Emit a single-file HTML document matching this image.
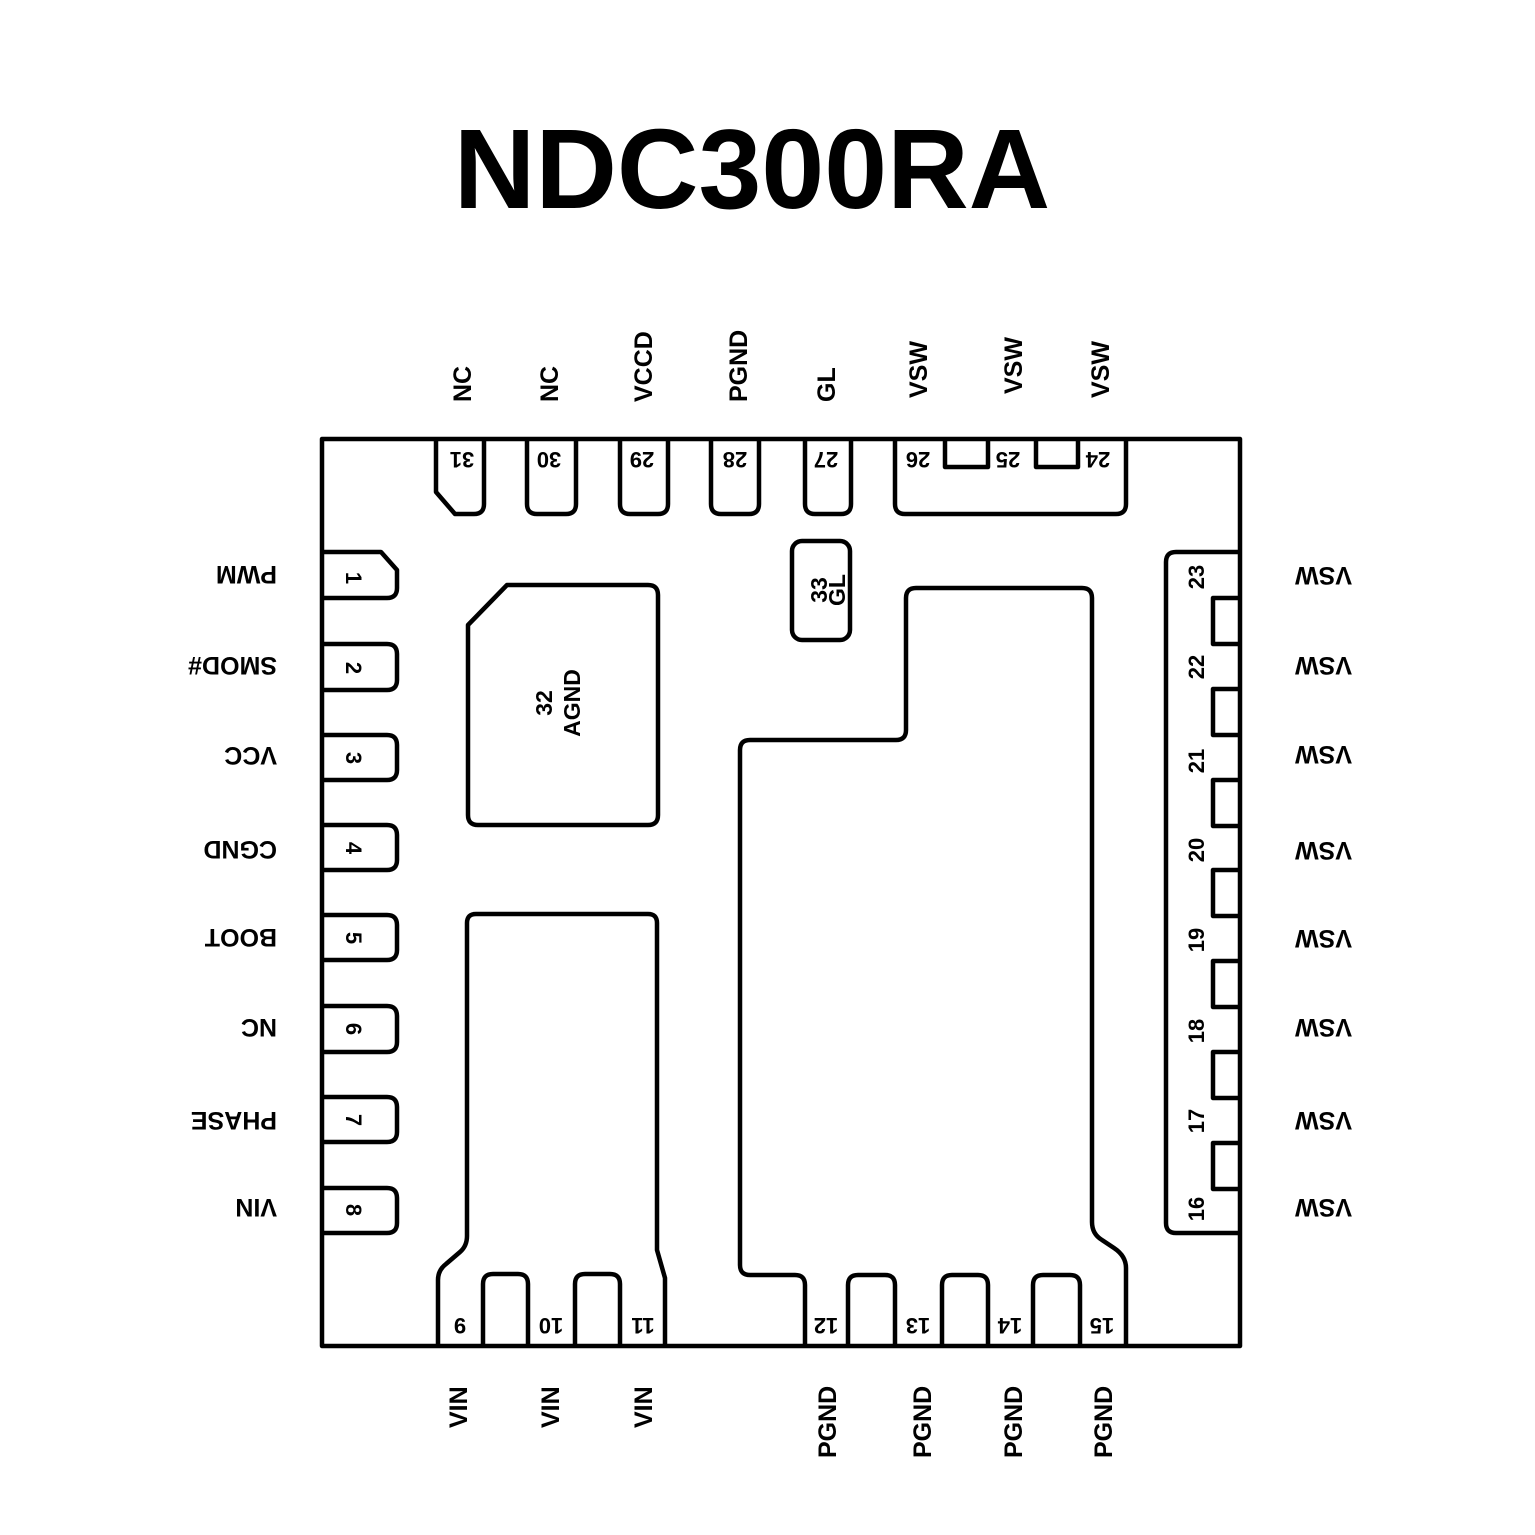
<!DOCTYPE html>
<html><head><meta charset="utf-8"><style>
html,body{margin:0;padding:0;background:#fff;}
svg{display:block;}
text{font-family:"Liberation Sans",Arial,sans-serif;font-weight:bold;fill:#000;}
</style></head><body>
<svg width="1535" height="1535" viewBox="0 0 1535 1535" xmlns="http://www.w3.org/2000/svg">
<text x="752" y="208" font-size="113" text-anchor="middle">NDC300RA</text>
<g fill="none" stroke="#000" stroke-width="4.5" stroke-linejoin="round">
<rect x="322" y="439" width="918" height="907"/>
<path d="M436 439 V492 L455 514 H474 Q484 514 484 504 V439"/>
<path d="M527 439 V504 Q527 514 537 514 H566 Q576 514 576 504 V439"/>
<path d="M620 439 V504 Q620 514 630 514 H658 Q668 514 668 504 V439"/>
<path d="M711 439 V504 Q711 514 721 514 H749 Q759 514 759 504 V439"/>
<path d="M805 439 V504 Q805 514 815 514 H841 Q851 514 851 504 V439"/>
<path d="M895 439 V504 Q895 514 905 514 H1116 Q1126 514 1126 504 V439"/>
<path d="M945 439 V467 H988 V439"/>
<path d="M1036 439 V467 H1078 V439"/>
<rect x="792" y="541" width="58" height="99" rx="10"/>
<path d="M468 625 L507 585 H648 Q658 585 658 595 V815 Q658 825 648 825 H478 Q468 825 468 815 Z"/>
<path d="M438 1346 V1280 Q438 1270 446 1264 L460 1252 Q467 1246 467 1236 V923 Q467 914 476 914 H648 Q657 914 657 923 V1250 L665 1278 V1346"/>
<path d="M483 1346 V1284 Q483 1274 493 1274 H518 Q528 1274 528 1284 V1346"/>
<path d="M575 1346 V1284 Q575 1274 585 1274 H610 Q620 1274 620 1284 V1346"/>
<path d="M805 1346 V1285 Q805 1275 795 1275 H750 Q740 1275 740 1265 V750 Q740 740 750 740 H896 Q906 740 906 730 V598 Q906 588 916 588 H1082 Q1092 588 1092 598 V1222 Q1092 1234 1102 1240 L1114 1248 Q1126 1256 1126 1268 V1346"/>
<path d="M848 1346 V1285 Q848 1275 858 1275 H885 Q895 1275 895 1285 V1346"/>
<path d="M942 1346 V1285 Q942 1275 952 1275 H978 Q988 1275 988 1285 V1346"/>
<path d="M1033 1346 V1285 Q1033 1275 1043 1275 H1070 Q1080 1275 1080 1285 V1346"/>
<path d="M322 552 H381 L397 570 V588 Q397 598 387 598 H322"/>
<path d="M322 644 H387 Q397 644 397 654 V680 Q397 690 387 690 H322"/>
<path d="M322 735 H387 Q397 735 397 745 V770 Q397 780 387 780 H322"/>
<path d="M322 825 H387 Q397 825 397 835 V860 Q397 870 387 870 H322"/>
<path d="M322 915 H387 Q397 915 397 925 V950 Q397 960 387 960 H322"/>
<path d="M322 1006 H387 Q397 1006 397 1016 V1042 Q397 1052 387 1052 H322"/>
<path d="M322 1097 H387 Q397 1097 397 1107 V1132 Q397 1142 387 1142 H322"/>
<path d="M322 1188 H387 Q397 1188 397 1198 V1223 Q397 1233 387 1233 H322"/>
<path d="M1240 552 H1176 Q1166 552 1166 562 V1223 Q1166 1233 1176 1233 H1240"/>
<path d="M1240 598 H1213 V644 H1240"/>
<path d="M1240 689 H1213 V735 H1240"/>
<path d="M1240 780 H1213 V826 H1240"/>
<path d="M1240 870 H1213 V916 H1240"/>
<path d="M1240 961 H1213 V1007 H1240"/>
<path d="M1240 1052 H1213 V1098 H1240"/>
<path d="M1240 1143 H1213 V1189 H1240"/>
</g>
<g font-size="25">
<text transform="translate(471,402) rotate(-90)">NC</text>
<text transform="translate(558,402) rotate(-90)">NC</text>
<text transform="translate(652,402) rotate(-90)">VCCD</text>
<text transform="translate(747,402) rotate(-90)">PGND</text>
<text transform="translate(835,402) rotate(-90)">GL</text>
<text transform="translate(927,398) rotate(-90)">VSW</text>
<text transform="translate(1022,394) rotate(-90)">VSW</text>
<text transform="translate(1109,398) rotate(-90)">VSW</text>
<text transform="translate(467,1428) rotate(-90)">VIN</text>
<text transform="translate(559,1428) rotate(-90)">VIN</text>
<text transform="translate(652,1428) rotate(-90)">VIN</text>
<text transform="translate(836,1458) rotate(-90)">PGND</text>
<text transform="translate(931,1458) rotate(-90)">PGND</text>
<text transform="translate(1022,1458) rotate(-90)">PGND</text>
<text transform="translate(1112,1458) rotate(-90)">PGND</text>
<g text-anchor="start">
<text transform="translate(277,566) rotate(180)">PWM</text>
<text transform="translate(277,657) rotate(180)">SMOD#</text>
<text transform="translate(277,747) rotate(180)">VCC</text>
<text transform="translate(277,841) rotate(180)">CGND</text>
<text transform="translate(277,929) rotate(180)">BOOT</text>
<text transform="translate(277,1019) rotate(180)">NC</text>
<text transform="translate(277,1112) rotate(180)">PHASE</text>
<text transform="translate(277,1199) rotate(180)">VIN</text>
</g>
<g text-anchor="end">
<text transform="translate(1295,567) rotate(180)">VSW</text>
<text transform="translate(1295,657) rotate(180)">VSW</text>
<text transform="translate(1295,746) rotate(180)">VSW</text>
<text transform="translate(1295,842) rotate(180)">VSW</text>
<text transform="translate(1295,930) rotate(180)">VSW</text>
<text transform="translate(1295,1019) rotate(180)">VSW</text>
<text transform="translate(1295,1112) rotate(180)">VSW</text>
<text transform="translate(1295,1199) rotate(180)">VSW</text>
</g>
</g>
<g font-size="22" text-anchor="middle">
<text transform="translate(462,452) rotate(180)">31</text>
<text transform="translate(549,452) rotate(180)">30</text>
<text transform="translate(642,452) rotate(180)">29</text>
<text transform="translate(735,452) rotate(180)">28</text>
<text transform="translate(826,452) rotate(180)">27</text>
<text transform="translate(918,452) rotate(180)">26</text>
<text transform="translate(1008,452) rotate(180)">25</text>
<text transform="translate(1098,452) rotate(180)">24</text>
<text transform="translate(460,1318) rotate(180)">9</text>
<text transform="translate(551,1318) rotate(180)">10</text>
<text transform="translate(643,1318) rotate(180)">11</text>
<text transform="translate(826,1318) rotate(180)">12</text>
<text transform="translate(918,1318) rotate(180)">13</text>
<text transform="translate(1010,1318) rotate(180)">14</text>
<text transform="translate(1102,1318) rotate(180)">15</text>
<text transform="translate(346,578) rotate(90)">1</text>
<text transform="translate(346,668) rotate(90)">2</text>
<text transform="translate(346,758) rotate(90)">3</text>
<text transform="translate(346,848) rotate(90)">4</text>
<text transform="translate(346,938) rotate(90)">5</text>
<text transform="translate(346,1029) rotate(90)">6</text>
<text transform="translate(346,1120) rotate(90)">7</text>
<text transform="translate(346,1210) rotate(90)">8</text>
<text transform="translate(1204,577) rotate(-90)">23</text>
<text transform="translate(1204,667) rotate(-90)">22</text>
<text transform="translate(1204,761) rotate(-90)">21</text>
<text transform="translate(1204,850) rotate(-90)">20</text>
<text transform="translate(1204,940) rotate(-90)">19</text>
<text transform="translate(1204,1031) rotate(-90)">18</text>
<text transform="translate(1204,1121) rotate(-90)">17</text>
<text transform="translate(1204,1209) rotate(-90)">16</text>
</g>
<g font-size="23" text-anchor="middle">
<text transform="translate(827,590) rotate(-90)">33</text>
<text transform="translate(845,590) rotate(-90)">GL</text>
<text transform="translate(552,703) rotate(-90)">32</text>
<text transform="translate(580,703) rotate(-90)">AGND</text>
</g>
</svg>
</body></html>
